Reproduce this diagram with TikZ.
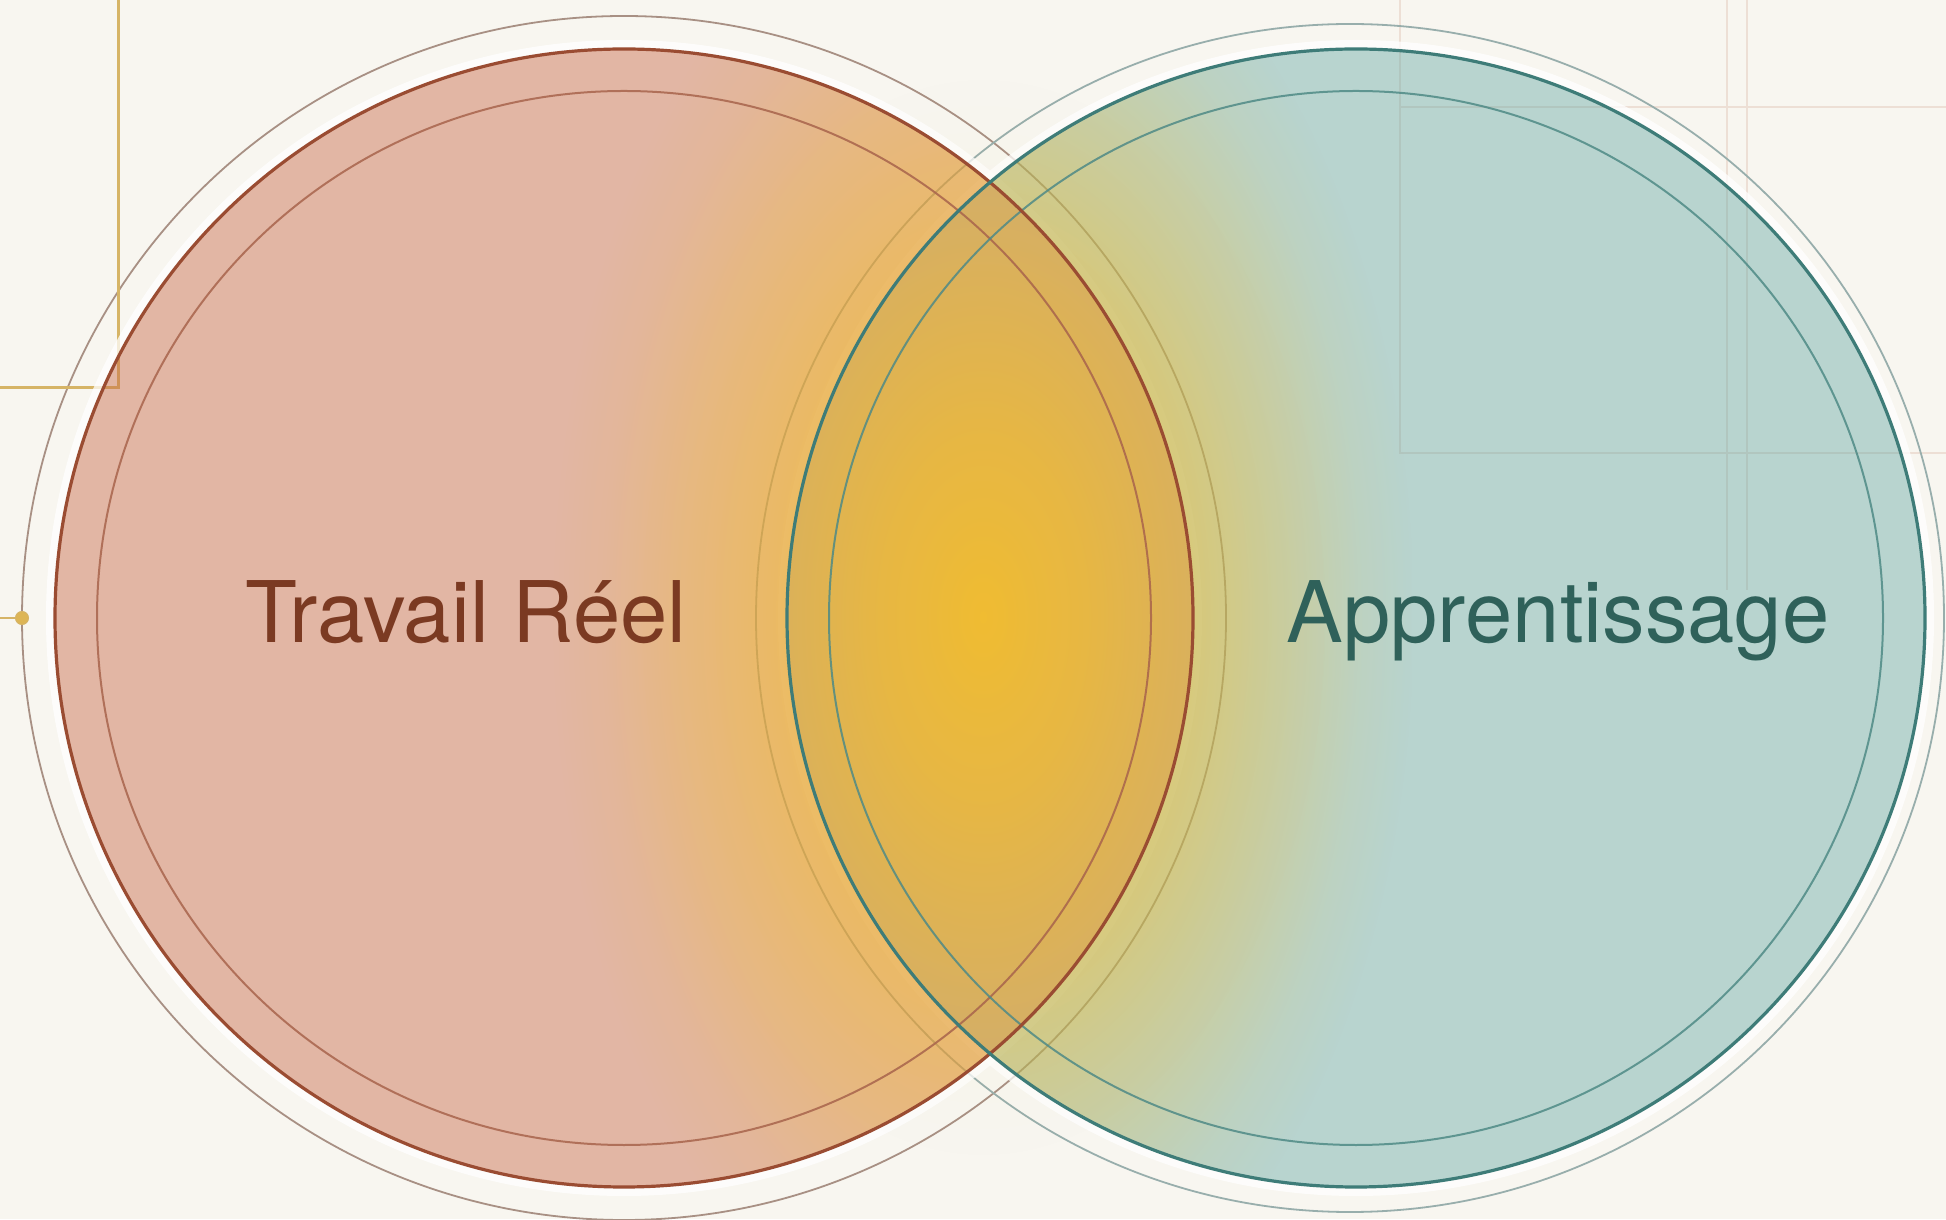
\documentclass[tikz,border=0pt]{standalone}
\usepackage{fontspec}
\setmainfont{TeX Gyre Heros}
\usetikzlibrary{fadings}
\definecolor{bgc}{HTML}{F8F6F0}
\definecolor{gridc}{HTML}{EDDFD5}
\definecolor{goldc}{HTML}{D6B466}
\definecolor{golddot}{HTML}{DDB555}
\definecolor{redfill}{HTML}{C86A48}
\definecolor{redline}{HTML}{9A4C32}
\definecolor{redinner}{HTML}{A8644C}
\definecolor{redouter}{HTML}{A89084}
\definecolor{redtext}{HTML}{7B3A22}
\definecolor{tealfill}{HTML}{58A29E}
\definecolor{tealline}{HTML}{3E7C78}
\definecolor{tealinner}{HTML}{4F8A86}
\definecolor{tealouter}{HTML}{98AEAC}
\definecolor{tealtext}{HTML}{2F615A}
\definecolor{glowc}{HTML}{F4BE2C}
\definecolor{fa}{gray}{0.93}
\definecolor{fb}{gray}{0.74}
\definecolor{fc}{gray}{0.50}
\definecolor{fd}{gray}{0.26}
\definecolor{fe}{gray}{0.08}
\pgfdeclareradialshading{glowshade}{\pgfpointorigin}{color(0bp)=(fa); color(6bp)=(fb); color(12bp)=(fc); color(18bp)=(fd); color(22bp)=(fe); color(25bp)=(black); color(50bp)=(black)}
\pgfdeclarefading{glowfade}{\pgfuseshading{glowshade}}
\tikzset{
  gridline/.style={gridc, line width=2pt},
  goldline/.style={goldc, line width=3pt},
  outerring/.style={line width=1.8pt},
  mainring/.style={line width=3.2pt},
  innerring/.style={line width=2pt, opacity=0.85},
  halo/.style={white, line width=8pt, opacity=0.75},
  label/.style={font=\fontsize{85}{100}\selectfont, anchor=base, inner sep=0pt}
}
\begin{document}
\begin{tikzpicture}[x=1pt,y=1pt]
\useasboundingbox (0,0) rectangle (1946,1219);
\fill[bgc] (0,0) rectangle (1946,1219);
% faint grid top right
\coordinate (g1) at (1400,1219);
\coordinate (g2) at (1400,766);
\coordinate (g3) at (1946,766);
\coordinate (g4) at (1400,1112);
\coordinate (g5) at (1946,1112);
\draw[gridline] (g1) -- (g2) -- (g3);
\draw[gridline] (g4) -- (g5);
\draw[gridline] (1727,1219) -- (1727,629);
\draw[gridline] (1747,1219) -- (1747,629);
% centres
\coordinate (R) at (624,601);
\coordinate (T) at (1356,601);
\coordinate (G) at (983,602);
% outer rings
\draw[outerring, redouter] (R) circle (602);
\draw[outerring, tealouter] (1350,601) circle (594);
% gold corner lines
\coordinate (k1) at (118,1219);
\coordinate (k2) at (118,831);
\coordinate (k3) at (0,831);
\draw[goldline] (k1) -- (k2) -- (k3);
% halos
\draw[halo] (R) circle (574);
\draw[halo] (T) circle (574);
% fills
\fill[tealfill, opacity=0.40] (T) circle (569);
\fill[redfill, opacity=0.45] (R) circle (569);
% glow
\begin{scope}
\clip (R) circle (569) (T) circle (569);
\fill[glowc, path fading=glowfade, fit fading=true] (553,-148) rectangle (1413,1352);
\end{scope}
\fill[glowc, opacity=0.12, path fading=glowfade, fit fading=true] (633,52) rectangle (1333,1152);
% strokes
\draw[innerring, redinner] (R) circle (527);
\draw[innerring, tealinner] (T) circle (527);
\draw[mainring, redline] (R) circle (569);
\draw[mainring, tealline] (T) circle (569);
% left gold dot
\coordinate (d0) at (0,601);
\node[circle, fill=golddot, draw=goldc, line width=1pt, minimum size=13pt, inner sep=0pt] (dot) at (22,601) {};
\draw[goldc, line width=2pt] (d0) -- (dot);
% labels
\node[label, text=redtext] (lt) at (466,576) {Travail Réel};
\node[label, text=tealtext] (rt) at (1558,576) {Apprentissage};
\end{tikzpicture}
\end{document}
